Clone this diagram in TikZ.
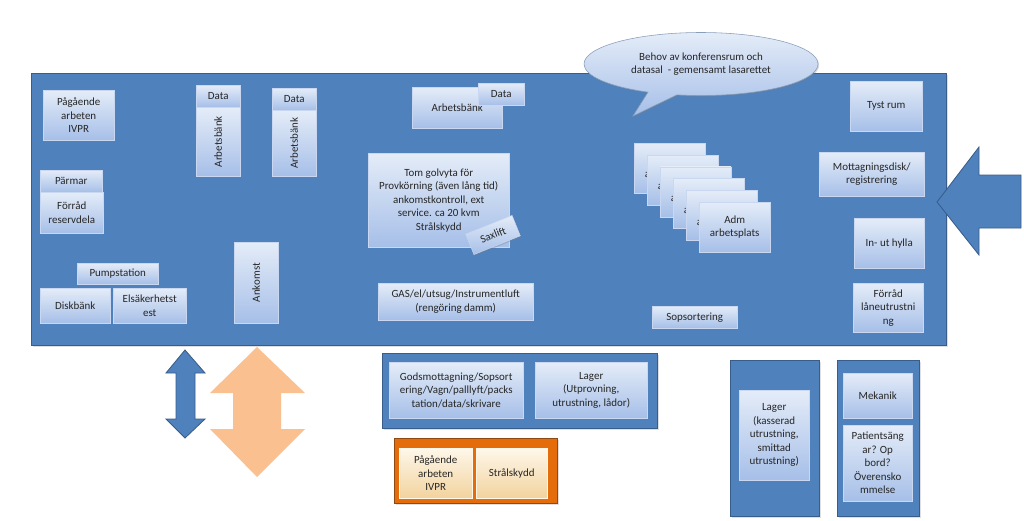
\documentclass[tikz,border=0pt]{standalone}
\usepackage{fontspec}
\setmainfont{Carlito}
\usetikzlibrary{shadows,shapes.callouts}

\newdimen\px
\px=0.025cm
\definecolor{hallblue}{HTML}{4F81BD}
\definecolor{halledge}{HTML}{385D8A}
\definecolor{boxtop}{HTML}{E4ECF8}
\definecolor{boxbot}{HTML}{A6BFE8}
\definecolor{boxedge}{HTML}{C9D8F0}
\definecolor{orangefill}{HTML}{E46C0A}
\definecolor{orangeedge}{HTML}{8E4A12}
\definecolor{creamtop}{HTML}{FEF7EA}
\definecolor{creambot}{HTML}{F2D39E}
\definecolor{peach}{HTML}{FAC090}

\tikzset{
  room/.style 2 args={rectangle, anchor=north west, minimum width=#1\px, minimum height=#2\px,
    inner sep=1pt, align=center, top color=boxtop, bottom color=boxbot, draw=boxedge,
    line width=0.3pt, text=black!85, font=\fontsize{7.8}{9.6}\selectfont,
    drop shadow={opacity=0.35, shadow xshift=0.8pt, shadow yshift=-0.8pt}},
  cream/.style={top color=creamtop, bottom color=creambot, draw=creamtop},
  panel/.style 2 args={rectangle, anchor=north west, minimum width=#1\px, minimum height=#2\px,
    inner sep=0pt, fill=hallblue, draw=halledge, line width=0.9pt,
    drop shadow={opacity=0.25, shadow xshift=0.8pt, shadow yshift=-0.8pt}},
  vtext/.style={rotate=90, text=black!85, font=\fontsize{7.8}{9.6}\selectfont},
}

\begin{document}
\begin{tikzpicture}[x=0.025cm, y=-0.025cm]
  \useasboundingbox (0,0) rectangle (1024,520);

  \node[panel={915}{272}] (hall) at (31,73) {};

  \node[room={71}{50}] (ivpr) at (43,90) {Pågående\\arbeten\\IVPR};
  \node[room={62}{22}] (parmar) at (40,170) {Pärmar};
  \node[room={63}{41}] (forrad) at (40,192) {Förråd\\reservdela};
  \node[room={44}{69}] (bench1) at (196,107) {};
  \node[vtext] (bench1txt) at (bench1.center) {Arbetsbänk};
  \node[room={44}{22}] (data1) at (196,85) {Data};
  \node[room={44}{66}] (bench2) at (272,110) {};
  \node[vtext] (bench2txt) at (bench2.center) {Arbetsbänk};
  \node[room={44}{22}] (data2) at (272,88) {Data};
  \node[room={81}{21}] (pump) at (77,263) {Pumpstation};
  \node[room={70}{35}] (disk) at (40,288) {Diskbänk};
  \node[room={73}{35}] (elsak) at (113,288) {Elsäkerhetst\\est};
  \node[room={44}{81}] (ankomst) at (234,242) {};
  \node[vtext] (ankomsttxt) at (ankomst.center) {Ankomst};

  \node[room={90}{41}] (bench3) at (412,87) {Arbetsbänk};
  \node[room={46}{22}] (data3) at (478,83) {Data};
  \node[room={141}{94}] (floor) at (368,153) {Tom golvyta för\\Provkörning (även lång tid)\\ankomstkontroll, ext\\service. ca 20 kvm\\Strålskydd};
  \node[room={50}{22}, anchor=center, rotate=22] (saxlift) at (493,235) {Saxlift};
  \node[room={155}{37}] (gas) at (378,283) {GAS/el/utsug/Instrumentluft\\(rengöring damm)};

  \foreach \i in {0,...,5}
    \node[room={71}{50}] (adm\i) at (634+13*\i,143+11.8*\i) {Adm\\arbetsplats};
  \node[room={85}{22}] (sop) at (652,306) {Sopsortering};

  \node[room={72}{50}] (tyst) at (850,81) {Tyst rum};
  \node[room={105}{44}] (mottag) at (819,152) {Mottagningsdisk/\\registrering};
  \node[room={70}{50}] (inut) at (854,218) {In- ut hylla};
  \node[room={70}{49}] (lane) at (853,283) {Förråd\\låneutrustni\\ng};

  \node[ellipse callout, callout absolute pointer={(633,116)}, minimum width=234\px,
    minimum height=63\px, top color=boxtop, bottom color=boxbot, draw=halledge!60,
    line width=0.4pt, align=center, text=black!85, font=\fontsize{7.8}{9.6}\selectfont,
    drop shadow={opacity=0.3, shadow xshift=0.8pt, shadow yshift=-0.8pt}]
    (behov) at (701,64) {Behov av konferensrum och\\datasal\ \ - gemensamt lasarettet};

  \filldraw[fill=hallblue, draw=halledge, line width=0.6pt]
    (937,202) -- (979,147) -- (979,175) -- (1021,175) -- (1021,228) -- (979,228) -- (979,255) -- cycle;
  \filldraw[fill=hallblue, draw=halledge, line width=0.6pt]
    (185,350) -- (205,373) -- (195,373) -- (195,419) -- (205,419) -- (185,438)
    -- (166,419) -- (176,419) -- (176,373) -- (166,373) -- cycle;
  \fill[peach]
    (257,347) -- (305,393) -- (281,393) -- (281,429) -- (305,429) -- (257,477)
    -- (210,429) -- (233,429) -- (233,393) -- (210,393) -- cycle;

  \node[panel={275}{75}] (goods) at (382,353) {};
  \node[room={134}{56}] (gods) at (389,362) {Godsmottagning/Sopsort\\ering/Vagn/palllyft/packs\\tation/data/skrivare};
  \node[room={112}{56}] (lager1) at (535,362) {Lager\\(Utprovning,\\utrustning, lådor)};

  \node[panel={163}{65}, fill=orangefill, draw=orangeedge] (ongoing) at (394,438) {};
  \node[room={73}{50}, cream] (ivpr2) at (399,448) {Pågående\\arbeten\\IVPR};
  \node[room={71}{50}, cream] (stral) at (476,448) {Strålskydd};

  \node[panel={89}{156}] (lagerpanel) at (730,360) {};
  \node[room={70}{90}] (lager2) at (739,390) {Lager\\(kasserad\\utrustning,\\smittad\\utrustning)};
  \node[panel={82}{156}] (mekpanel) at (837,360) {};
  \node[room={69}{45}] (mekanik) at (843,373) {Mekanik};
  \node[room={69}{76}] (patient) at (843,425) {Patientsäng\\ar? Op\\bord?\\Överensko\\mmelse};
\end{tikzpicture}
\end{document}
